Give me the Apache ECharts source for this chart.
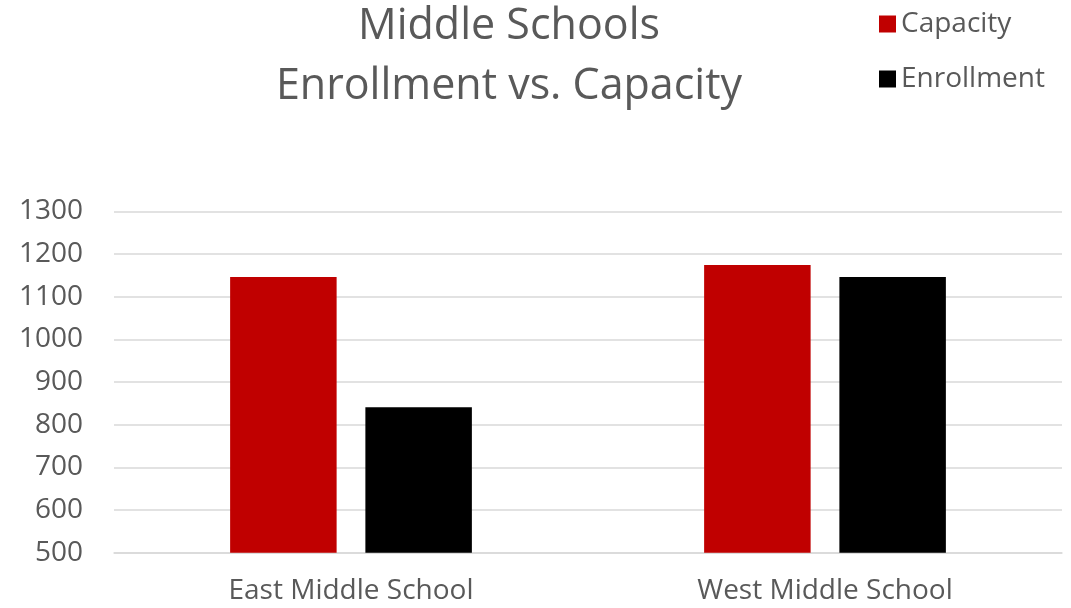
<!DOCTYPE html>
<html>
<head>
<meta charset="utf-8">
<script src="https://cdn.jsdelivr.net/npm/echarts@6/dist/echarts.min.js"></script>
<style>
  html, body { margin: 0; padding: 0; background: #ffffff; }
  #chart { width: 1071px; height: 608px; }
</style>
</head>
<body>
<div id="chart"></div>
<script>
// School enrollment vs. building capacity
const schools = ['East Middle School', 'West Middle School'];
const capacity = [1146, 1174];
const enrollment = [841, 1146];
const seriesNames = ['Capacity', 'Enrollment'];

const textColor = '#595959';
const fontFamily = 'Open Sans';

const chart = echarts.init(document.getElementById('chart'), null, { renderer: 'canvas' });

chart.setOption({
  backgroundColor: '#ffffff',
  animation: false,
  title: {
    text: 'Middle Schools\nEnrollment vs. Capacity',
    left: 504,
    top: -8,
    textAlign: 'center',
    textStyle: {
      color: textColor,
      fontFamily: fontFamily,
      fontWeight: 'normal',
      fontSize: 43,
      lineHeight: 60
    }
  },
  legend: {
    data: seriesNames,
    orient: 'vertical',
    left: 874,
    top: 5,
    icon: 'rect',
    itemWidth: 17,
    itemHeight: 17,
    itemGap: 27,
    textStyle: {
      color: textColor,
      fontFamily: fontFamily,
      fontSize: 28,
      lineHeight: 28
    }
  },
  grid: {
    left: 114,
    right: 9,
    top: 211.3,
    bottom: 55.3,
    containLabel: false
  },
  xAxis: {
    type: 'category',
    data: schools,
    axisLine: { lineStyle: { color: '#d9d9d9', width: 1.5 } },
    axisTick: { show: false },
    axisLabel: {
      color: textColor,
      fontFamily: fontFamily,
      fontSize: 28,
      margin: 24
    }
  },
  yAxis: {
    type: 'value',
    min: 500,
    max: 1300,
    interval: 100,
    axisLine: { show: false },
    axisTick: { show: false },
    splitLine: { lineStyle: { color: '#d9d9d9', width: 1.5 } },
    axisLabel: {
      color: textColor,
      fontFamily: fontFamily,
      fontSize: 28,
      margin: 31,
      formatter: (v) => String(v)
    }
  },
  series: [
    {
      name: seriesNames[0],
      type: 'bar',
      data: capacity,
      barWidth: 106.5,
      barGap: '27%',
      itemStyle: { color: '#c00000' }
    },
    {
      name: seriesNames[1],
      type: 'bar',
      data: enrollment,
      barWidth: 106.5,
      barGap: '27%',
      itemStyle: { color: '#000000' }
    }
  ]
});
</script>
</body>
</html>
